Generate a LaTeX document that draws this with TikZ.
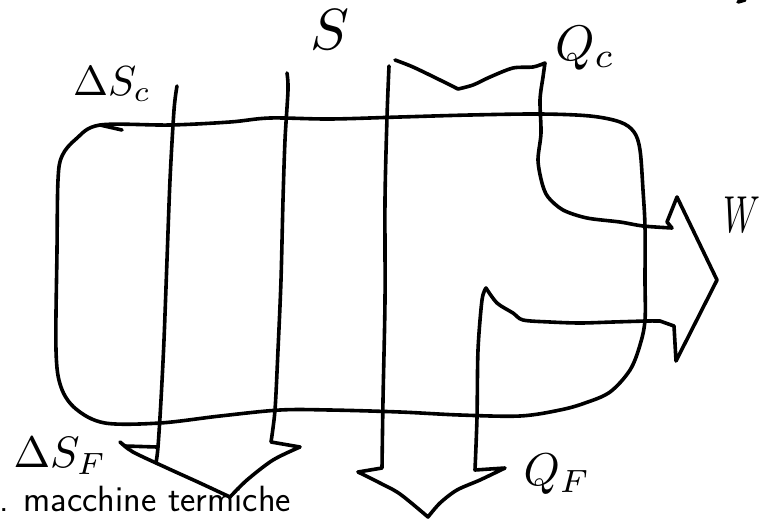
\documentclass[tikz,border=0pt]{standalone}
\usepackage{graphicx}
\begin{document}
\begin{tikzpicture}[x=1pt, y=-1pt,
  stroke/.style={line width=3.6pt, line cap=round, line join=round},
  lbl/.style={inner sep=0pt, outer sep=0pt}]
\useasboundingbox (0,0) rectangle (763,520);

% system boundary (rounded box)
\draw[stroke] plot[smooth cycle, tension=0.55] coordinates {
  (100,125) (170,125) (230,122) (270,118) (330,119) (400,117) (470,115)
  (540,114) (590,116) (620,122) (634,132) (640,150) (643,190) (645,227)
  (645,280) (645,320) (640,345) (630,370) (610,392) (585,403) (560,410)
  (520,416) (460,415) (400,412) (330,410) (280,410) (220,416) (160,423)
  (105,423) (76,409) (61,387) (56,350) (57,250) (58,180) (62,156) (76,139)};
\draw[stroke] (100,125) -- (122,130);

% entropy flow, left column
\draw[stroke] plot[smooth] coordinates {
  (177,86) (174,110) (170,180) (167,260) (164,340) (161,400) (158,447) (156,463)};
\draw[stroke] plot[smooth] coordinates {
  (287,73) (288,90) (285,140) (283,200) (281,280) (278,350) (275,410) (271,442)}
  -- (300,447)
  -- plot[smooth] coordinates {(300,447) (273,460) (247,480) (230,497)}
  -- plot[smooth] coordinates {(230,497) (200,483) (167,468) (133,452) (120,442)}
  -- (125,446) -- (157,447);

% heat and work flow
\draw[stroke] plot[smooth] coordinates {
  (389,66) (387,117) (385,200) (385,300) (383,400) (382,468)}
  -- (358,472)
  -- plot[smooth] coordinates {(358,472) (380,483) (400,494) (428,517)}
  -- plot[smooth] coordinates {(428,517) (440,503) (457,490) (480,480) (505,468)}
  -- (475,470)
  -- plot[smooth] coordinates {(475,470) (477,417) (478,350) (482,300) (486,288)}
  -- plot[smooth] coordinates {(486,288) (497,303) (513,313) (523,320) (550,322)
       (580,323) (613,322) (647,321) (660,321)}
  -- (674,326) -- (676,361) -- (717,280) -- (677,197) -- (667,222) -- (672,228)
  -- plot[smooth] coordinates {(672,228) (643,226) (620,222) (587,218) (563,210)
       (548,197) (542,183) (538,160) (541,133) (540,100) (543,77) (545,63)}
  -- plot[smooth] coordinates {(545,63) (533,67) (513,68) (490,77) (473,85) (458,89)}
  -- plot[smooth] coordinates {(458,89) (440,80) (413,67) (395,60)};

% stray mark
\draw[stroke] (738,2) -- (745,0);

% labels
\node[lbl] (S) at (330,30) {\scalebox{5.8}{$S$}};
\node[lbl] (dSc) at (112,84) {\scalebox{4.2}{$\Delta S_c$}};
\node[lbl] (Qc) at (585,48) {\scalebox{5.0}{$Q_c$}};
\node[lbl] (W) at (742,215) {\scalebox{3.4}[5.2]{$W$}};
\node[lbl] (dSF) at (60,456) {\scalebox{4.4}{$\Delta S_F$}};
\node[lbl] (QF) at (557,474) {\scalebox{4.6}{$Q_F$}};
\node[lbl, anchor=base west] (title) at (-1,511)
  {\fontsize{36.5}{40}\selectfont\sffamily . macchine termiche};
\end{tikzpicture}
\end{document}
